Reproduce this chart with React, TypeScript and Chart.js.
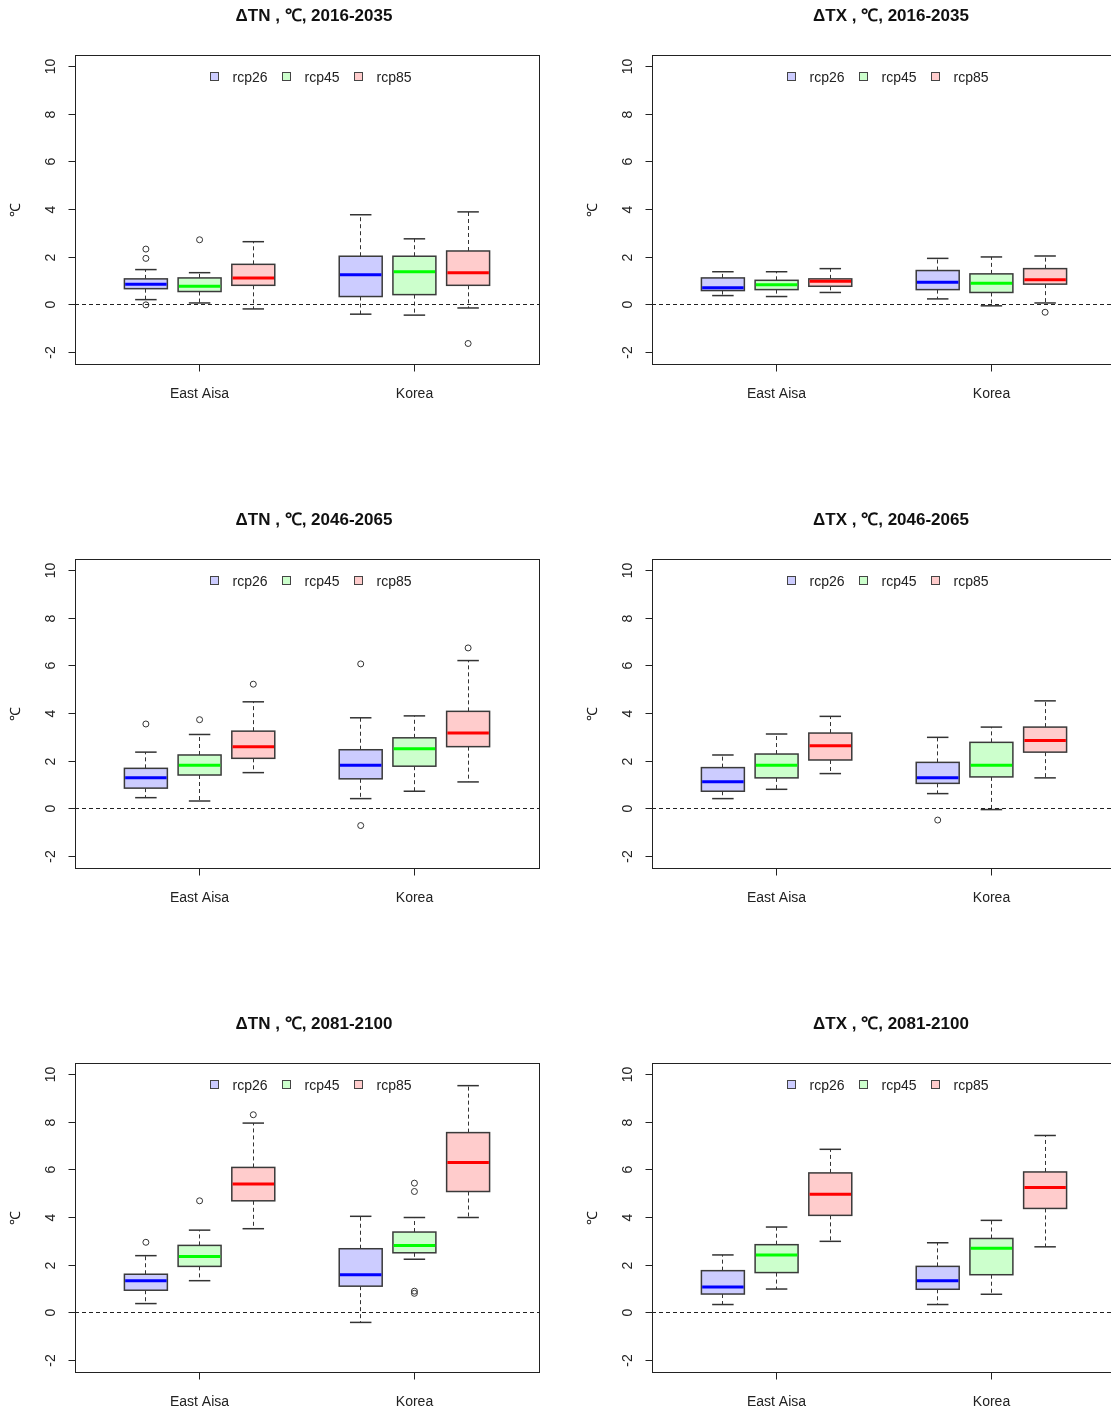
import React, { useEffect, useRef } from "react";
import { Chart, registerables } from "chart.js";

Chart.register(...registerables);

// Categories and axis labels
const regions = ["East Aisa", "Korea"];
const scenarios = ["rcp26", "rcp45", "rcp85"];
const boxPositions = [1, 2, 3, 5, 6, 7];
const regionPositions = [2, 6];
const yTicks = [-2, 0, 2, 4, 6, 8, 10];
const yAxisLabel = "℃";
const fillColors = ["#CCCCFF", "#CCFFCC", "#FFCCCC"];
const medianColors = ["#0000FF", "#00FF00", "#FF0000"];

// Five-number summaries per box, order: East Aisa rcp26/45/85, Korea rcp26/45/85
// [lower whisker, Q1, median, Q3, upper whisker]
const tn2016: number[][] = [
  [0.22, 0.68, 0.87, 1.09, 1.48],
  [0.08, 0.56, 0.78, 1.13, 1.35],
  [-0.17, 0.82, 1.13, 1.7, 2.65],
  [-0.39, 0.35, 1.26, 2.04, 3.78],
  [-0.43, 0.43, 1.39, 2.04, 2.77],
  [-0.13, 0.82, 1.35, 2.26, 3.9],
];
const tx2016: number[][] = [
  [0.39, 0.6, 0.72, 1.13, 1.39],
  [0.35, 0.64, 0.84, 1.03, 1.39],
  [0.52, 0.78, 0.99, 1.09, 1.52],
  [0.25, 0.64, 0.95, 1.44, 1.95],
  [-0.04, 0.52, 0.91, 1.3, 2.01],
  [0.08, 0.87, 1.05, 1.52, 2.05],
];
const tn2046: number[][] = [
  [0.47, 0.87, 1.31, 1.7, 2.38],
  [0.33, 1.42, 1.83, 2.26, 3.12],
  [1.52, 2.12, 2.61, 3.26, 4.49],
  [0.43, 1.26, 1.83, 2.48, 3.82],
  [0.74, 1.79, 2.52, 2.98, 3.9],
  [1.13, 2.61, 3.18, 4.09, 6.22],
];
const tx2046: number[][] = [
  [0.43, 0.74, 1.14, 1.73, 2.26],
  [0.82, 1.3, 1.83, 2.3, 3.14],
  [1.48, 2.05, 2.65, 3.18, 3.88],
  [0.64, 1.07, 1.31, 1.95, 3.0],
  [-0.03, 1.34, 1.83, 2.79, 3.43],
  [1.3, 2.38, 2.87, 3.43, 4.53],
];
const tn2081: number[][] = [
  [0.39, 0.95, 1.35, 1.62, 2.4],
  [1.35, 1.95, 2.36, 2.83, 3.47],
  [3.53, 4.7, 5.4, 6.1, 7.96],
  [-0.4, 1.12, 1.6, 2.69, 4.05],
  [2.25, 2.52, 2.83, 3.39, 4.0],
  [4.0, 5.09, 6.31, 7.56, 9.53],
];
const tx2081: number[][] = [
  [0.35, 0.79, 1.09, 1.77, 2.43],
  [1.0, 1.69, 2.43, 2.86, 3.6],
  [3.0, 4.09, 4.97, 5.87, 6.86],
  [0.35, 0.99, 1.35, 1.95, 2.94],
  [0.78, 1.6, 2.71, 3.12, 3.88],
  [2.77, 4.38, 5.26, 5.91, 7.44],
];

// Outliers: [box index, value]
const tn2016Outliers: number[][] = [[0, 2.34], [0, 1.95], [0, 0.0], [1, 2.73], [5, -1.62]];
const tx2016Outliers: number[][] = [[5, -0.31]];
const tn2046Outliers: number[][] = [[0, 3.56], [1, 3.74], [2, 5.23], [3, 6.08], [3, -0.7], [5, 6.75]];
const tx2046Outliers: number[][] = [[3, -0.47]];
const tn2081Outliers: number[][] = [[0, 2.96], [1, 4.7], [2, 8.31], [4, 5.44], [4, 5.09], [4, 0.91], [4, 0.82]];
const tx2081Outliers: number[][] = [];

const panelTitles = [
  "ΔTN , ℃, 2016-2035",
  "ΔTX , ℃, 2016-2035",
  "ΔTN , ℃, 2046-2065",
  "ΔTX , ℃, 2046-2065",
  "ΔTN , ℃, 2081-2100",
  "ΔTX , ℃, 2081-2100",
];

const FONT = '"Liberation Sans", Arial, sans-serif';
const PANEL_H = 504;

type PanelProps = {
  title: string;
  stats: number[][];
  outliers: number[][];
  left: number;
  top: number;
  width: number;
  padLeft: number;
  padRight: number;
};

function Panel({ title, stats, outliers, left, top, width, padLeft, padRight }: PanelProps) {
  const ref = useRef<HTMLCanvasElement>(null);

  useEffect(() => {
    const canvas = ref.current;
    if (!canvas) return;

    const line = (ctx: CanvasRenderingContext2D, x1: number, y1: number, x2: number, y2: number) => {
      ctx.beginPath();
      ctx.moveTo(x1, y1);
      ctx.lineTo(x2, y2);
      ctx.stroke();
    };
    const crisp = (v: number) => Math.round(v - 0.5) + 0.5;

    const boxPlugin = {
      id: "boxes",
      beforeDatasetsDraw(chart: any) {
        const { ctx } = chart;
        const xs = chart.scales.x;
        const ys = chart.scales.y;
        stats.forEach((s, i) => {
          const [lo, q1, med, q3, hi] = s;
          const pos = boxPositions[i];
          const k = i % 3;
          const xl = xs.getPixelForValue(pos - 0.4);
          const xr = xs.getPixelForValue(pos + 0.4);
          const xc = crisp(xs.getPixelForValue(pos));
          const cl = xs.getPixelForValue(pos - 0.2);
          const cr = xs.getPixelForValue(pos + 0.2);
          const yLo = ys.getPixelForValue(lo);
          const yQ1 = ys.getPixelForValue(q1);
          const yMed = ys.getPixelForValue(med);
          const yQ3 = ys.getPixelForValue(q3);
          const yHi = ys.getPixelForValue(hi);
          ctx.save();
          ctx.strokeStyle = "#333";
          ctx.lineWidth = 1;
          ctx.setLineDash([4, 3]);
          line(ctx, xc, yQ3, xc, yHi);
          line(ctx, xc, yQ1, xc, yLo);
          ctx.setLineDash([]);
          ctx.lineWidth = 1.5;
          line(ctx, cl, yHi, cr, yHi);
          line(ctx, cl, yLo, cr, yLo);
          ctx.fillStyle = fillColors[k];
          ctx.fillRect(xl, yQ3, xr - xl, yQ1 - yQ3);
          ctx.strokeStyle = "#3a3a3a";
          ctx.lineWidth = 1.5;
          ctx.strokeRect(xl, yQ3, xr - xl, yQ1 - yQ3);
          ctx.strokeStyle = medianColors[k];
          ctx.lineWidth = 3;
          line(ctx, xl + 0.75, yMed, xr - 0.75, yMed);
          ctx.restore();
        });
      },
      afterDatasetsDraw(chart: any) {
        const { ctx, chartArea } = chart;
        const y0 = crisp(chart.scales.y.getPixelForValue(0));
        ctx.save();
        ctx.strokeStyle = "#222";
        ctx.lineWidth = 1;
        ctx.setLineDash([4, 3]);
        line(ctx, chartArea.left, y0, chartArea.right, y0);
        ctx.restore();
      },
      afterDraw(chart: any) {
        const { ctx, chartArea } = chart;
        const xs = chart.scales.x;
        const ys = chart.scales.y;
        const L = crisp(chartArea.left);
        const R = crisp(chartArea.right);
        const T = crisp(chartArea.top);
        const B = crisp(chartArea.bottom);
        const cx = (chartArea.left + chartArea.right) / 2;
        ctx.save();
        // frame
        ctx.strokeStyle = "#222";
        ctx.lineWidth = 1;
        ctx.strokeRect(L, T, R - L, B - T);
        // y axis ticks and labels
        ctx.fillStyle = "#222";
        ctx.font = `14px ${FONT}`;
        ctx.textAlign = "center";
        ctx.textBaseline = "middle";
        yTicks.forEach((t) => {
          const py = crisp(ys.getPixelForValue(t));
          line(ctx, L - 7, py, L, py);
          ctx.save();
          ctx.translate(L - 25, py);
          ctx.rotate(-Math.PI / 2);
          ctx.fillText(String(t), 0, 1);
          ctx.restore();
        });
        // y axis title
        ctx.save();
        ctx.translate(L - 59, (chartArea.top + chartArea.bottom) / 2);
        ctx.rotate(-Math.PI / 2);
        ctx.fillText(yAxisLabel, 0, 0);
        ctx.restore();
        // x axis ticks and labels
        regionPositions.forEach((p, i) => {
          const px = crisp(xs.getPixelForValue(p));
          line(ctx, px, B, px, B + 7);
          ctx.fillText(regions[i], px, B + 30);
        });
        // title
        ctx.font = `bold 17px ${FONT}`;
        ctx.fillStyle = "#111";
        ctx.fillText(title, cx + 7, chartArea.top - 39);
        // legend
        const legendOffsets = [-97, -25, 47];
        const ly = chartArea.top + 22;
        ctx.font = `14px ${FONT}`;
        ctx.textAlign = "left";
        scenarios.forEach((name, k) => {
          const sx = Math.round(cx + legendOffsets[k]) + 0.5;
          ctx.fillStyle = fillColors[k];
          ctx.fillRect(sx, ly - 4.5, 8, 8);
          ctx.strokeStyle = "#444";
          ctx.lineWidth = 1;
          ctx.strokeRect(sx, ly - 4.5, 8, 8);
          ctx.fillStyle = "#222";
          ctx.fillText(name, sx + 22, ly + 1);
        });
        ctx.restore();
      },
    };

    const chart = new Chart(canvas, {
      type: "scatter",
      data: {
        datasets: [
          {
            data: outliers.map(([idx, v]) => ({ x: boxPositions[idx], y: v })),
            pointRadius: 3,
            pointHoverRadius: 3,
            pointStyle: "circle",
            borderColor: "#333",
            backgroundColor: "rgba(0,0,0,0)",
            borderWidth: 1,
          },
        ],
      },
      options: {
        responsive: false,
        animation: false,
        devicePixelRatio: 1,
        layout: { padding: { left: padLeft, right: padRight, top: 55, bottom: 140 } },
        scales: {
          x: { type: "linear", min: -0.32, max: 8.32, display: false },
          y: { type: "linear", min: -2.48, max: 10.48, display: false },
        },
        plugins: { legend: { display: false }, tooltip: { enabled: false } },
        events: [],
      },
      plugins: [boxPlugin],
    } as any);

    return () => chart.destroy();
  }, [title, stats, outliers, padLeft, padRight]);

  return (
    <canvas
      ref={ref}
      width={width}
      height={PANEL_H}
      style={{ position: "absolute", left, top, width, height: PANEL_H }}
    />
  );
}

const panelStats = [tn2016, tx2016, tn2046, tx2046, tn2081, tx2081];
const panelOutliers = [tn2016Outliers, tx2016Outliers, tn2046Outliers, tx2046Outliers, tn2081Outliers, tx2081Outliers];

export default function App() {
  return (
    <div
      style={{
        position: "absolute",
        left: 0,
        top: 0,
        width: 1111,
        height: 1414,
        overflow: "hidden",
        background: "#fff",
      }}
    >
      {panelStats.map((stats, i) => {
        const col = i % 2;
        const row = Math.floor(i / 2);
        return (
          <Panel
            key={i}
            title={panelTitles[i]}
            stats={stats}
            outliers={panelOutliers[i]}
            left={col === 0 ? 0 : 555}
            top={row * PANEL_H}
            width={col === 0 ? 555 : 600}
            padLeft={col === 0 ? 75 : 97}
            padRight={col === 0 ? 16 : 39}
          />
        );
      })}
    </div>
  );
}
